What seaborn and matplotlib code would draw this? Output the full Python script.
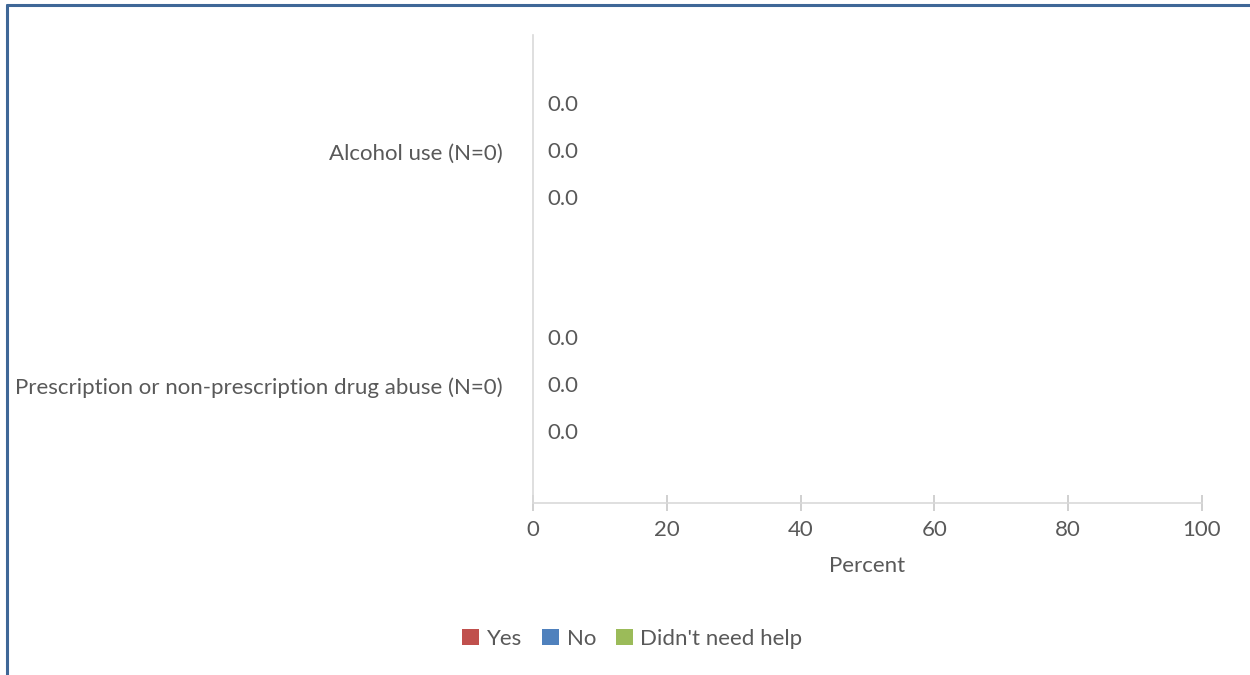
import numpy as np
import pandas as pd
import seaborn as sns
import matplotlib.pyplot as plt
from matplotlib.patches import Patch
from matplotlib.lines import Line2D

# chart data
categories = ['Alcohol use (N=0)', 'Prescription or non-prescription drug abuse (N=0)']
responses = ['Yes', 'No', "Didn't need help"]
yes_pct = [0.0, 0.0]
no_pct = [0.0, 0.0]
no_help_pct = [0.0, 0.0]
x_ticks = [0, 20, 40, 60, 80, 100]

colors = {'Yes': '#C0504D', 'No': '#4F81BD', "Didn't need help": '#9BBB59'}
txt_col = '#595959'
ax_col = '#D9D9D9'
fs = 16

df = pd.DataFrame({
    'category': categories * 3,
    'response': [r for r in responses for _ in categories],
    'percent': yes_pct + no_pct + no_help_pct,
})

sns.set_theme(style='white')
plt.rcParams['font.family'] = ['Lato', 'DejaVu Sans']

fig = plt.figure(figsize=(12.5, 6.75), dpi=100)
ax = fig.add_axes([533 / 1250, 1 - 503 / 675, (1202 - 533) / 1250, (503 - 35) / 675])

sns.barplot(data=df, y='category', x='percent', hue='response', hue_order=responses,
            palette=colors, orient='h', width=0.6, ax=ax, legend=False, errorbar=None)

for cont in ax.containers:
    ax.bar_label(cont, fmt='%.1f', padding=10, fontsize=fs, color=txt_col)

ax.set_xlim(0, 100)
ax.set_ylim(1.5, -0.5)
ax.set_xticks(x_ticks)
ax.tick_params(axis='x', bottom=True, direction='inout', length=12, width=1.2, color='#C8C8C8',
               labelsize=fs, labelcolor=txt_col, pad=6)
ax.tick_params(axis='y', left=False, length=0, labelsize=fs, labelcolor=txt_col, pad=22)
ax.set_xlabel('Percent', fontsize=fs, color=txt_col, labelpad=12)
ax.set_ylabel('')

for side in ['top', 'right']:
    ax.spines[side].set_visible(False)
for side in ['left', 'bottom']:
    ax.spines[side].set_color(ax_col)
    ax.spines[side].set_linewidth(1.2)

handles = [Patch(facecolor=colors[r], edgecolor='none', label=r) for r in responses]
fig.legend(handles=handles, loc='center', bbox_to_anchor=(0.506, 1 - 639 / 675), ncol=3,
           frameon=False, fontsize=fs, labelcolor=txt_col, handlelength=0.75, handleheight=0.75,
           handletextpad=0.35, columnspacing=0.9)

# outer frame (top and left edges)
fig.add_artist(Line2D([7 / 1250, 7 / 1250], [0, 1 - 5 / 675], transform=fig.transFigure,
                      color='#3F6797', linewidth=2.2))
fig.add_artist(Line2D([7 / 1250, 1], [1 - 5 / 675, 1 - 5 / 675], transform=fig.transFigure,
                      color='#3F6797', linewidth=2.2))

fig.savefig('out.png', dpi=100)
